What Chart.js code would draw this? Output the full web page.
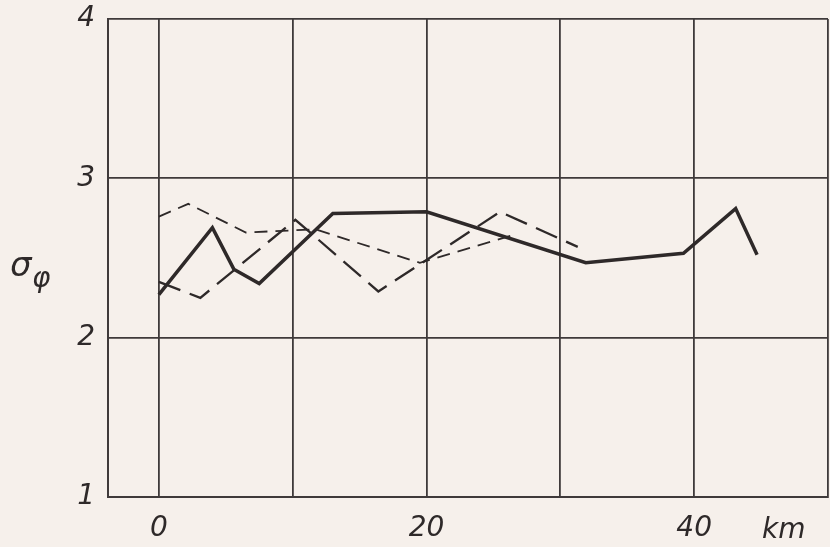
<!DOCTYPE html>
<html>
<head>
<meta charset="utf-8">
<script src="https://cdn.jsdelivr.net/npm/chart.js@4.4.1/dist/chart.umd.min.js"></script>
<style>
  html, body { margin: 0; padding: 0; background: #f6f0eb; }
  #chart { display: block; }
</style>
</head>
<body>
<canvas id="chart" width="830" height="547"></canvas>
<script>
// =======================
// DATA
// =======================
const solidKm = [0, 4.0, 5.6, 7.5, 13.0, 20.0, 31.9, 39.2, 43.1, 44.7];
const solidSigma = [2.27, 2.69, 2.43, 2.34, 2.78, 2.79, 2.47, 2.53, 2.81, 2.52];

const longDashKm = [0, 3.1, 10.2, 16.4, 25.5, 31.3];
const longDashSigma = [2.35, 2.25, 2.74, 2.29, 2.79, 2.57];

const shortDashKm = [0, 2.2, 6.5, 11.7, 19.5, 26.3];
const shortDashSigma = [2.76, 2.84, 2.66, 2.68, 2.47, 2.64];

const xTickValues = [0, 10, 20, 30, 40, 50];
const xTickLabels = { 0: '0', 20: '20', 40: '40' };
const yTickValues = [1, 2, 3, 4];

const ink = '#2e2929';
const gridInk = '#3f3a3a';
const tickFont = { family: 'DejaVu Sans', size: 28, style: 'italic' };

function toPoints(xs, ys) {
    return xs.map((x, i) => ({ x: x, y: ys[i] }));
}

// =======================
// EXTRA TEXT: km unit + sigma label
// =======================
const extraText = {
    id: 'extraText',
    afterDraw(chart) {
        const ctx = chart.ctx;
        const xs = chart.scales.x;
        ctx.save();
        ctx.fillStyle = ink;
        ctx.textAlign = 'center';
        ctx.textBaseline = 'alphabetic';
        ctx.font = 'italic 28px "DejaVu Sans"';
        ctx.fillText('km', xs.getPixelForValue(46.7), 538);

        ctx.textAlign = 'left';
        ctx.font = 'italic 34px "DejaVu Sans"';
        ctx.fillText('σ', 10, 276);
        ctx.font = 'italic 28px "DejaVu Sans"';
        ctx.fillText('φ', 32, 287);
        ctx.restore();
    }
};

// =======================
// CHART
// =======================
const chart = new Chart(
document.getElementById('chart'),
{
    type: 'line',
    data: {
        datasets: [
            {
                data: toPoints(solidKm, solidSigma),
                borderColor: ink,
                borderWidth: 3.5,
                pointRadius: 0,
                tension: 0
            },
            {
                data: toPoints(longDashKm, longDashSigma),
                borderColor: ink,
                borderWidth: 2.3,
                borderDash: [23, 10],
                pointRadius: 0,
                tension: 0
            },
            {
                data: toPoints(shortDashKm, shortDashSigma),
                borderColor: ink,
                borderWidth: 1.8,
                borderDash: [13, 8],
                pointRadius: 0,
                tension: 0
            }
        ]
    },
    options: {
        responsive: false,
        animation: false,
        layout: { padding: { top: 19, right: 2, left: 0, bottom: 0 } },
        plugins: {
            legend: { display: false },
            tooltip: { enabled: false }
        },
        scales: {
            x: {
                type: 'linear',
                min: -3.8,
                max: 50,
                afterBuildTicks: (scale) => {
                    scale.ticks = xTickValues.map(v => ({ value: v }));
                },
                afterFit: (scale) => {
                    scale.height = 50;
                    scale.paddingLeft = 0;
                    scale.paddingRight = 0;
                },
                border: { display: true, color: gridInk, width: 2 },
                grid: { color: gridInk, lineWidth: 1.8, drawTicks: false },
                ticks: {
                    color: ink,
                    font: tickFont,
                    padding: 15,
                    maxRotation: 0,
                    autoSkip: false,
                    callback: (v) => xTickLabels[v] !== undefined ? xTickLabels[v] : ''
                }
            },
            y: {
                min: 1,
                max: 4,
                afterBuildTicks: (scale) => {
                    scale.ticks = yTickValues.map(v => ({ value: v }));
                },
                afterFit: (scale) => {
                    scale.width = 108;
                    scale.paddingTop = 0;
                    scale.paddingBottom = 0;
                },
                border: { display: true, color: gridInk, width: 2 },
                grid: { color: gridInk, lineWidth: 1.8, drawTicks: false },
                ticks: {
                    color: ink,
                    font: tickFont,
                    padding: 13
                }
            }
        }
    },
    plugins: [extraText]
});
</script>
</body>
</html>
